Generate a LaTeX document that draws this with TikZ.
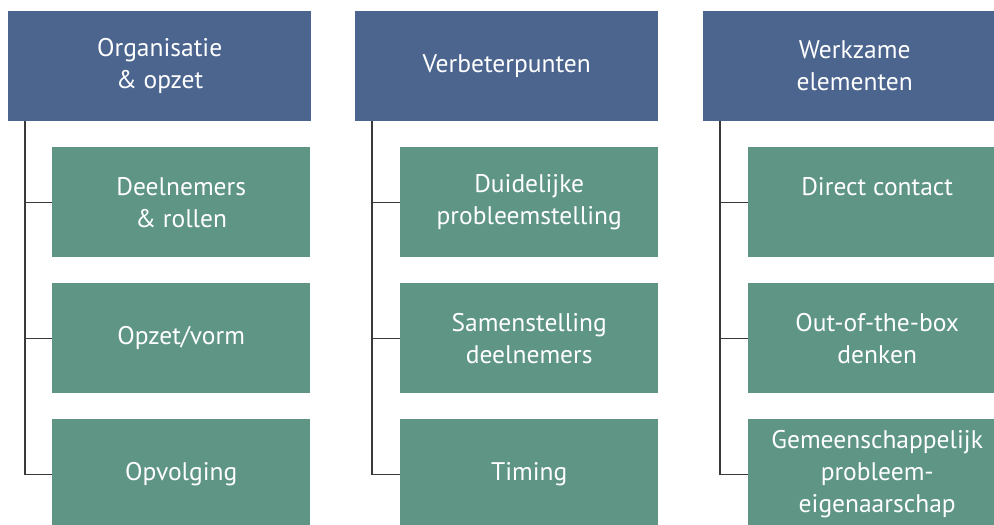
\documentclass[tikz,border=0pt]{standalone}
\usepackage{fontspec}
\setmainfont{PT Sans}
\definecolor{hdrblue}{HTML}{4B658F}
\definecolor{boxgreen}{HTML}{5E9585}
\definecolor{linegray}{HTML}{3A3A3A}
\begin{document}
\begin{tikzpicture}[x=1pt,y=-1pt,
  hdr/.style={fill=hdrblue, text=white, minimum width=303pt, minimum height=110pt, inner sep=0pt, align=center, font=\fontsize{25.5}{32}\selectfont, anchor=north west},
  child/.style={fill=boxgreen, text=white, minimum width=258pt, minimum height=110pt, inner sep=0pt, align=center, font=\fontsize{25.5}{32}\selectfont, anchor=north west},
  conn/.style={draw=linegray, line width=1.4pt}]
\useasboundingbox (0,0) rectangle (994,525);
\clip (0,0) rectangle (994,525);
% headers
\node[hdr] (h1) at (8,11) {Organisatie\\\& opzet};
\node[hdr] (h2) at (355,11) {Verbeterpunten};
\node[hdr] (h3) at (703,11) {Werkzame\\elementen};
% children column 1
\node[child] (c11) at (52,147) {Deelnemers\\\& rollen};
\node[child] (c12) at (52,283) {Opzet/vorm};
\node[child] (c13) at (52,419) {Opvolging};
% column 2
\node[child] (c21) at (400,147) {Duidelijke\\probleemstelling};
\node[child] (c22) at (400,283) {Samenstelling\\deelnemers};
\node[child] (c23) at (400,419) {Timing};
% column 3
\node[child] (c31) at (748,147) {Direct contact\\\mbox{}};
\node[child] (c32) at (748,283) {Out-of-the-box\\denken};
\node[child] (c33) at (748,419) {Gemeenschappelijk\\probleem-\\eigenaarschap};
% trunk coordinates
\coordinate (t1) at ([xshift=17pt]h1.south west);
\coordinate (t2) at ([xshift=17pt]h2.south west);
\coordinate (t3) at ([xshift=17pt]h3.south west);
\foreach \c in {1,2,3}{
  \foreach \r in {1,2,3}{
    \draw[conn] (t\c) |- (c\c\r.west);
  }
}
\end{tikzpicture}
\end{document}
